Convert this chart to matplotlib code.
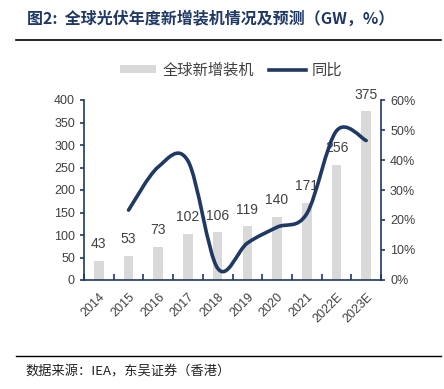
import matplotlib
matplotlib.use("Agg")
import matplotlib.pyplot as plt
from matplotlib.path import Path
from matplotlib.patches import PathPatch, Patch
from matplotlib.lines import Line2D
import numpy as np

plt.rcParams['font.family'] = ['Liberation Sans', 'Noto Sans CJK SC', 'DejaVu Sans']

categories = ["2014", "2015", "2016", "2017", "2018", "2019", "2020", "2021", "2022E", "2023E"]
installs = [43, 53, 73, 102, 106, 119, 140, 171, 256, 375]
growth_cats = ["2015", "2016", "2017", "2018", "2019", "2020", "2021", "2022E", "2023E"]
growth = [23.3, 37.7, 39.7, 3.9, 12.3, 17.6, 22.1, 49.7, 46.5]

NAVY = "#1f3864"
BAR = "#d9d9d9"
TXT = "#404040"

fig = plt.figure(figsize=(4.44, 3.89), dpi=100)
ax = fig.add_axes([84/444, 1-280/389, (381-84)/444, 180/389])
x = np.arange(len(categories))
ax.bar(x, installs, width=0.32, color=BAR, zorder=1)
for xi, v in zip(x, installs):
    ax.annotate(str(v), (xi, v), xytext=(0, 7), textcoords="offset points",
                ha="center", va="bottom", fontsize=10, color=TXT)
ax.set_xlim(-0.5, len(categories)-0.5)
ax.set_ylim(0, 400)
ax.set_yticks(range(0, 401, 50))
ax.set_xticks(x)
ax.set_xticklabels(categories, rotation=45, ha="right", rotation_mode="anchor")
ax.set_xticks(np.arange(-0.5, len(categories), 1), minor=True)
ax.tick_params(axis="x", which="major", length=0, labelsize=9, colors=TXT, pad=8)
ax.tick_params(axis="x", which="minor", length=4, color=NAVY, width=1.2, direction="in")
ax.tick_params(axis="y", length=3, color=NAVY, width=1.2, labelsize=9, labelcolor=TXT)
for s in ["top", "right"]:
    ax.spines[s].set_visible(False)
for s in ["left", "bottom"]:
    ax.spines[s].set_color(NAVY)
    ax.spines[s].set_linewidth(1.2)

ax2 = ax.twinx()
ax2.set_ylim(0, 60)
ax2.set_yticks(range(0, 61, 10))
ax2.set_yticklabels([f"{v}%" for v in range(0, 61, 10)])
ax2.tick_params(axis="y", length=3, color=NAVY, width=1.2, labelsize=9, labelcolor=TXT)
for s in ["top", "left", "bottom"]:
    ax2.spines[s].set_visible(False)
ax2.spines["right"].set_color(NAVY)
ax2.spines["right"].set_linewidth(1.2)

gx = np.array([categories.index(c) for c in growth_cats], dtype=float)
gy = np.array(growth, dtype=float)
pts = np.column_stack([gx, gy])
verts = [tuple(pts[0])]
codes = [Path.MOVETO]
n = len(pts)
for i in range(n-1):
    p0 = pts[max(i-1, 0)]
    p1 = pts[i]
    p2 = pts[i+1]
    p3 = pts[min(i+2, n-1)]
    c1 = p1 + (p2 - p0) / 6
    c2 = p2 - (p3 - p1) / 6
    verts += [tuple(c1), tuple(c2), tuple(p2)]
    codes += [Path.CURVE4] * 3
ax2.add_patch(PathPatch(Path(verts, codes), facecolor="none", edgecolor=NAVY,
                        lw=2.6, capstyle="round", zorder=3))

handles = [Patch(facecolor=BAR, edgecolor="none"), Line2D([], [], color=NAVY, lw=2.6)]
fig.legend(handles, ["全球新增装机", "同比"], loc="center", ncol=2, frameon=False,
           bbox_to_anchor=(231/444, 1-70/389), handlelength=2.4, handleheight=0.35,
           handletextpad=0.4, columnspacing=1.0, labelcolor=TXT,
           prop={'family': ['Noto Sans CJK SC'], 'size': 11})

fig.text(27/444, 1-19/389, "图2:  全球光伏年度新增装机情况及预测（GW，%）", fontsize=11.5,
         fontweight="bold", color=NAVY, va="center", ha="left",
         family=['Noto Sans CJK SC', 'DejaVu Sans'])
fig.add_artist(Line2D([16/444, 441/444], [1-40/389, 1-40/389], color="black", lw=1.2))
fig.add_artist(Line2D([16/444, 441/444], [1-356/389, 1-356/389], color="black", lw=1.0))
fig.text(25/444, 1-372/389, "数据来源：IEA，东吴证券（香港）", fontsize=9.5, color="#222222",
         va="center", ha="left", family=['Noto Sans CJK SC', 'DejaVu Sans'])

fig.savefig("out.png", dpi=100)
